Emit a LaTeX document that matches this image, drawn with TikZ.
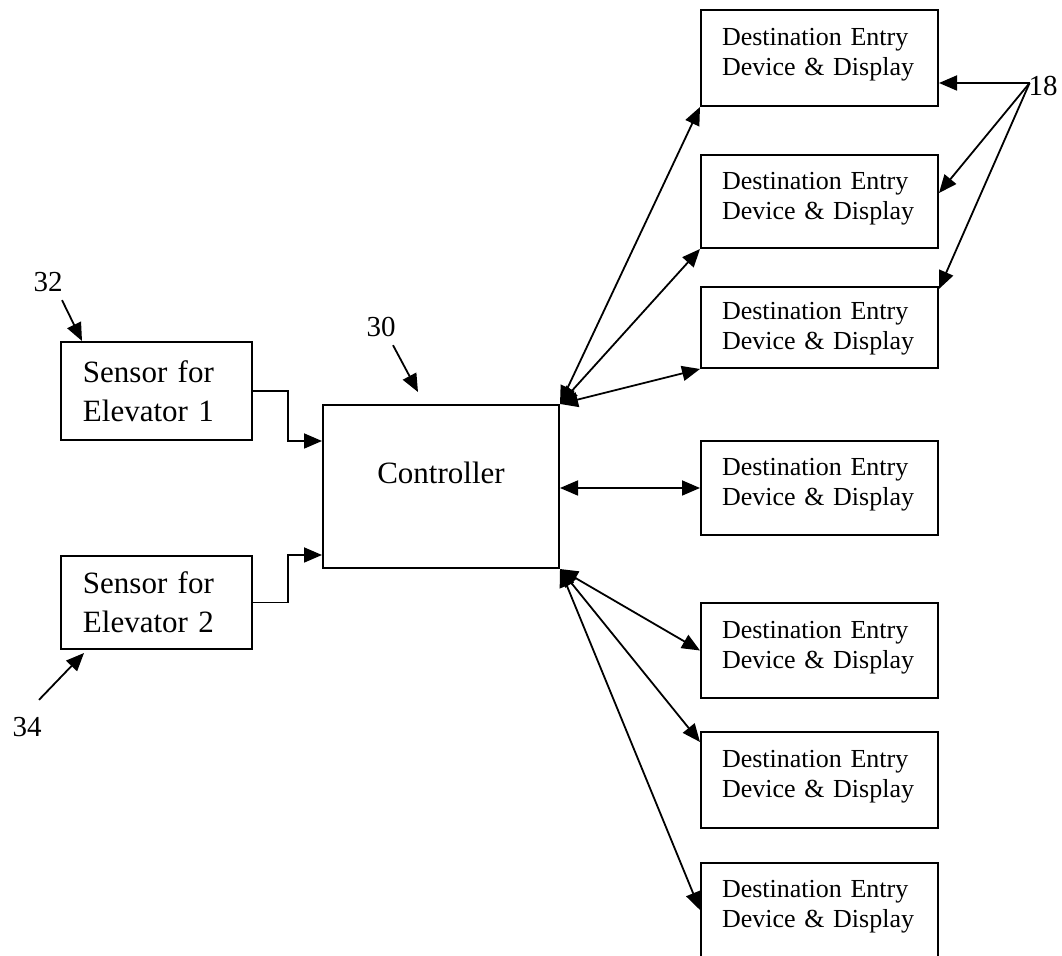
\documentclass[tikz,border=0pt]{standalone}
\usepackage{fontspec}
\setmainfont{Liberation Serif}
\usetikzlibrary{arrows.meta}
\newcommand\destfont{\fontsize{13pt}{15pt}\selectfont}
\newcommand\sensfont{\fontsize{15.5pt}{19.5pt}\selectfont}
\newcommand\numfont{\fontsize{14.5pt}{17pt}\selectfont}
\begin{document}
\begin{tikzpicture}[x=0.5pt,y=-0.5pt,
  box/.style={draw, line width=1pt, inner ysep=0pt},
  dbox/.style={box, minimum width=118.5pt, text width=97.5pt, inner xsep=10.5pt, align=left, font=\destfont, text depth=21pt},
  sbox/.style={box, minimum width=95.5pt, text width=73.5pt, inner xsep=11pt, align=left, font=\sensfont},
  num/.style={inner sep=0pt, font=\numfont},
  arr/.style={line width=0.9pt, -{Triangle[length=9pt,width=7.5pt]}},
  barr/.style={line width=0.9pt, {Triangle[length=9pt,width=7.5pt]}-{Triangle[length=9pt,width=7.5pt]}},
]
\useasboundingbox (0,0) rectangle (1062,956);

% destination boxes
\node[dbox, minimum height=48pt]   (d1) at (819.5,58)    {Destination Entry\\Device \& Display};
\node[dbox, minimum height=46.5pt] (d2) at (819.5,201.5) {Destination Entry\\Device \& Display};
\node[dbox, minimum height=40.5pt, text depth=17pt] (d3) at (819.5,327.5) {Destination Entry\\Device \& Display};
\node[dbox, minimum height=47pt]   (d4) at (819.5,488)   {Destination Entry\\Device \& Display};
\node[dbox, minimum height=47.5pt] (d5) at (819.5,650.5) {Destination Entry\\Device \& Display};
\node[dbox, minimum height=48pt]   (d6) at (819.5,780)   {Destination Entry\\Device \& Display};
\node[dbox, minimum height=47pt]   (d7) at (819.5,910)   {Destination Entry\\Device \& Display};

% sensors and controller
\node[sbox, minimum height=49pt]   (s1) at (156.5,391)   {Sensor for\\Elevator 1};
\node[sbox, minimum height=46.5pt] (s2) at (156.5,602.5) {Sensor for\\Elevator 2};
\node[box, minimum width=118pt, minimum height=81.5pt, font=\sensfont, text depth=14pt] (c) at (441,486.5) {Controller};

% reference numerals
\node[num] (l32) at (48,282)  {32};
\node[num] (l30) at (381,327) {30};
\node[num] (l34) at (27,727)  {34};
\node[num] (l18) at (1043,86) {18};
\coordinate (p18) at ([shift={(0.75pt,1.5pt)}]l18.west);

% sensor connectors
\draw[arr] (s1.east) -- ++(35,0) |- (c.west |- s1.south);
\draw[arr] (s2.east) -- ++(35,0) |- (c.west |- s2.north);

% controller to destination devices
\draw[barr] (c.north east) -- (d1.south west);
\draw[barr] (c.north east) -- (d2.south west);
\draw[barr] (c.north east) -- (d3.south west);
\draw[barr] (d4.west -| c.east) -- (d4.west);
\draw[barr] (c.south east) -- (d5.west);
\draw[barr] (c.south east) -- ([yshift=-5.5pt]d6.north west);
\draw[barr] (c.south east) -- (d7.west);

% numeral leaders
\draw[arr] (p18) -- (d1.east |- p18);
\draw[arr] (p18) -- ([yshift=4.25pt]d2.east);
\draw[arr] (p18) -- ([yshift=-1.5pt]d3.north east);
\draw[arr] ([shift={(7pt,-4pt)}]l32.south) -- ([xshift=11pt]s1.north west);
\draw[arr] ([shift={(6pt,-4pt)}]l30.south) -- ([shift={(-11.5pt,6pt)}]c.north);
\draw[arr] ([shift={(6pt,8.5pt)}]l34.north) -- ([shift={(12pt,-1.5pt)}]s2.south west);
\end{tikzpicture}
\end{document}
